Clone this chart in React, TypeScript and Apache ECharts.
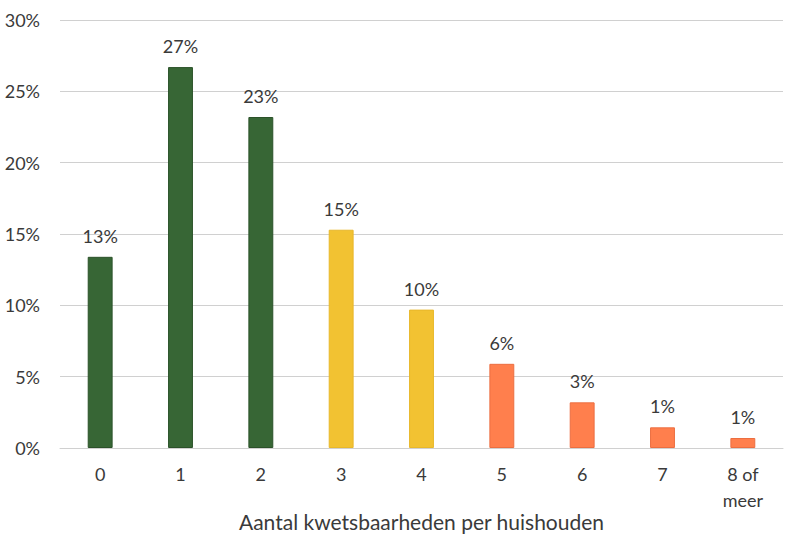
import React, { useEffect, useRef } from "react";
import * as echarts from "echarts";

const categories = ["0", "1", "2", "3", "4", "5", "6", "7", "8 of\nmeer"];
const values = [13.4, 26.7, 23.2, 15.3, 9.7, 5.9, 3.2, 1.45, 0.7];
const labels = ["13%", "27%", "23%", "15%", "10%", "6%", "3%", "1%", "1%"];
const groups = ["g", "g", "g", "y", "y", "o", "o", "o", "o"];
const yTicks = [0, 5, 10, 15, 20, 25, 30];

const fills: Record<string, string> = { g: "#376635", y: "#F2C232", o: "#FF7F4D" };
const borders: Record<string, string> = { g: "#2B5229", y: "#E8B82A", o: "#EC6E40" };

const FONT = "Lato";
const TXT = "#3A3A3A";

export default function App() {
  const ref = useRef<HTMLDivElement>(null);
  useEffect(() => {
    if (!ref.current) return;
    const chart = echarts.init(ref.current, undefined, { renderer: "svg" });
    chart.setOption({
      animation: false,
      backgroundColor: "#ffffff",
      grid: {
        left: 60,
        right: 17,
        top: 20,
        bottom: 92,
        containLabel: false,
        outerBoundsMode: "none",
      },
      xAxis: {
        type: "category",
        data: categories,
        name: "Aantal kwetsbaarheden per huishouden",
        nameLocation: "middle",
        nameGap: 63,
        nameMoveOverlap: false,
        nameTextStyle: { fontFamily: FONT, fontSize: 21, color: TXT },
        axisLine: { lineStyle: { color: "#D0D0D0", width: 1 } },
        axisTick: { show: false },
        axisLabel: {
          fontFamily: FONT,
          fontSize: 18,
          color: TXT,
          margin: 13,
          lineHeight: 26,
        },
      },
      yAxis: {
        type: "value",
        min: 0,
        max: 30,
        interval: 5,
        axisLine: { show: false },
        axisTick: { show: false },
        splitLine: { lineStyle: { color: "#D0D0D0", width: 1 } },
        axisLabel: {
          fontFamily: FONT,
          fontSize: 18,
          color: TXT,
          margin: 20,
          formatter: (v: number) => (yTicks.includes(v) ? `${v}%` : ""),
        },
      },
      series: [
        {
          type: "bar",
          barWidth: "31%",
          data: values.map((v, i) => ({
            value: v,
            itemStyle: {
              color: fills[groups[i]],
              borderColor: borders[groups[i]],
              borderWidth: 1,
            },
          })),
          label: {
            show: true,
            position: "top",
            distance: 12,
            fontFamily: FONT,
            fontSize: 18,
            color: TXT,
            formatter: (p: any) => labels[p.dataIndex],
          },
        },
      ],
    });
    return () => chart.dispose();
  }, []);
  return (
    <div
      ref={ref}
      style={{ position: "fixed", left: 0, top: 0, width: 800, height: 540 }}
    />
  );
}
